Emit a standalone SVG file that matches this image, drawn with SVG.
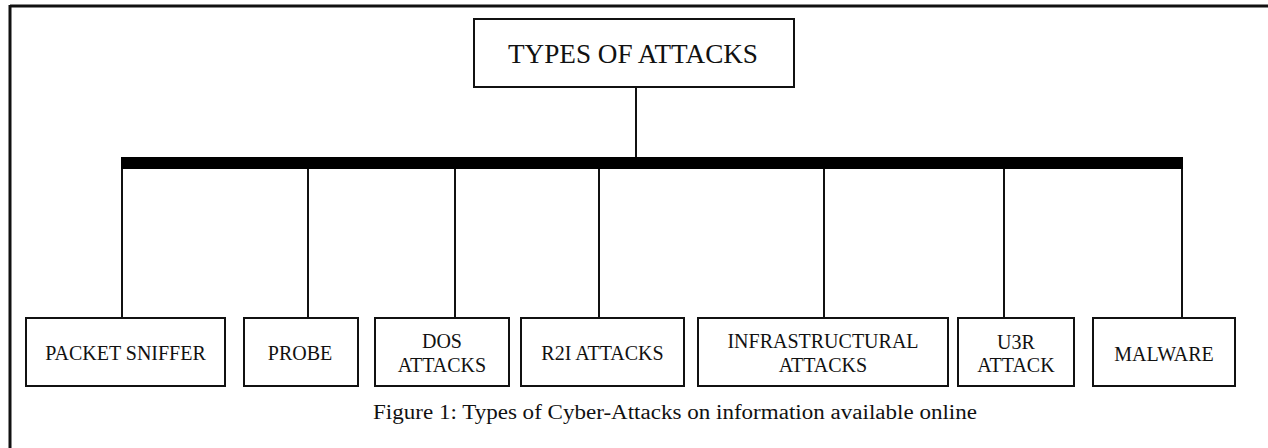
<svg xmlns="http://www.w3.org/2000/svg" width="1268" height="448" viewBox="0 0 1268 448">
<style>
.box{fill:#fff;stroke:#111;stroke-width:2}
.t{font-family:"Liberation Serif","Times New Roman",serif;font-size:20px;fill:#111;text-anchor:middle}
.ln{stroke:#111;stroke-width:2;fill:none}
</style>
<rect width="1268" height="448" fill="#fff"/>
<g id="frame">
<line x1="10" y1="6" x2="1268" y2="6" stroke="#111" stroke-width="3"/>
<line x1="10" y1="5" x2="10" y2="448" stroke="#111" stroke-width="3"/>
</g>
<g id="connectors">
<line class="ln" x1="636" y1="87" x2="636" y2="158"/>
<rect x="121" y="157" width="1062" height="12" fill="#000"/>
<line class="ln" x1="122" y1="169" x2="122" y2="318"/>
<line class="ln" x1="308" y1="169" x2="308" y2="318"/>
<line class="ln" x1="455" y1="169" x2="455" y2="318"/>
<line class="ln" x1="599" y1="169" x2="599" y2="318"/>
<line class="ln" x1="824" y1="169" x2="824" y2="318"/>
<line class="ln" x1="1004" y1="169" x2="1004" y2="318"/>
<line class="ln" x1="1182" y1="169" x2="1182" y2="318"/>
</g>
<g id="root">
<rect class="box" x="474" y="19" width="320" height="68"/>
<text class="t" x="633" y="63" style="font-size:27px" textLength="250" lengthAdjust="spacingAndGlyphs">TYPES OF ATTACKS</text>
</g>
<g id="packet-sniffer">
<rect class="box" x="26" y="318" width="199" height="68"/>
<text class="t" x="125.5" y="360">PACKET SNIFFER</text>
</g>
<g id="probe">
<rect class="box" x="244" y="318" width="114" height="68"/>
<text class="t" x="300" y="360">PROBE</text>
</g>
<g id="dos">
<rect class="box" x="375" y="318" width="134" height="68"/>
<text class="t" x="442" y="348">DOS</text>
<text class="t" x="442" y="372">ATTACKS</text>
</g>
<g id="r2i">
<rect class="box" x="521" y="318" width="163" height="68"/>
<text class="t" x="602.5" y="360">R2I ATTACKS</text>
</g>
<g id="infra">
<rect class="box" x="698" y="318" width="250" height="68"/>
<text class="t" x="823" y="348">INFRASTRUCTURAL</text>
<text class="t" x="823" y="372">ATTACKS</text>
</g>
<g id="u3r">
<rect class="box" x="958" y="318" width="116" height="68"/>
<text class="t" x="1016" y="349">U3R</text>
<text class="t" x="1016" y="372">ATTACK</text>
</g>
<g id="malware">
<rect class="box" x="1093" y="318" width="142" height="68"/>
<text class="t" x="1164" y="361">MALWARE</text>
</g>
<text x="675" y="419" style="font-family:'Liberation Serif','Times New Roman',serif;font-size:20px;fill:#111;text-anchor:middle" textLength="604" lengthAdjust="spacingAndGlyphs">Figure 1: Types of Cyber-Attacks on information available online</text>
</svg>
